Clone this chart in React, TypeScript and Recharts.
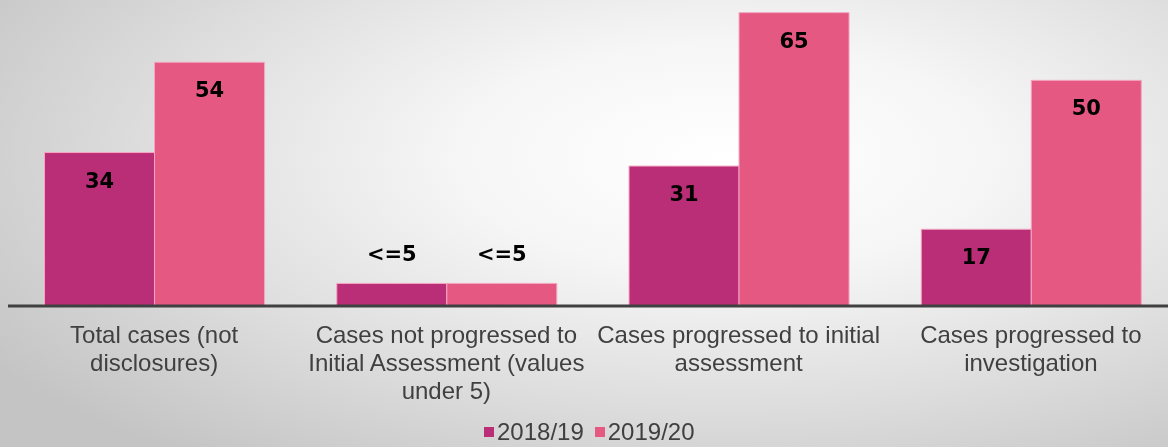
import React from "react";
import { BarChart, Bar, XAxis, YAxis, LabelList } from "recharts";

const categories = [
  "Total cases (not disclosures)",
  "Cases not progressed to Initial Assessment (values under 5)",
  "Cases progressed to initial assessment",
  "Cases progressed to investigation",
];
const tickLines = [
  ["Total cases (not", "disclosures)"],
  ["Cases not progressed to", "Initial Assessment (values", "under 5)"],
  ["Cases progressed to initial", "assessment"],
  ["Cases progressed to", "investigation"],
];
const series1Name = "2018/19";
const series2Name = "2019/20";
const values1819 = [34, 5, 31, 17];
const values1920 = [54, 5, 65, 50];
const labels1819 = ["34", "<=5", "31", "17"];
const labels1920 = ["54", "<=5", "65", "50"];

const COLOR1 = "#B92E76";
const COLOR2 = "#E55882";
const STROKE = "#F4A6C2";
const TEXT = "#404040";

const data = categories.map((c, i) => ({
  name: c,
  s1: values1819[i],
  s2: values1920[i],
}));

const renderTick = (props: any) => {
  const { x, y, payload } = props;
  const lines = tickLines[payload.index] || [payload.value];
  return (
    <g>
      {lines.map((l: string, i: number) => (
        <text
          key={i}
          x={x}
          y={y + 37 + i * 28}
          textAnchor="middle"
          fill={TEXT}
          fontFamily="'Liberation Sans', Arial, sans-serif"
          fontSize={24}
        >
          {l}
        </text>
      ))}
    </g>
  );
};

const makeLabel = (labels: string[]) => (props: any) => {
  const { x, y, width, index } = props;
  const txt = labels[index];
  const small = txt.startsWith("<");
  const cy = small ? y - 29 : y + 28;
  return (
    <text
      x={x + width / 2}
      y={cy}
      textAnchor="middle"
      dominantBaseline="central"
      fill="#000"
      fontFamily="'DejaVu Sans', sans-serif"
      fontWeight="bold"
      fontSize={21}
    >
      {txt}
    </text>
  );
};

export default function App() {
  return (
    <div
      style={{
        position: "fixed",
        top: 0,
        left: 0,
        width: 1168,
        height: 447,
        overflow: "hidden",
        background:
          "radial-gradient(ellipse 75% 85% at 62% 35%, #ffffff 0%, #f6f6f6 30%, #dedede 65%, #c4c4c4 100%)",
      }}
    >
      <BarChart
        width={1185}
        height={447}
        data={data}
        margin={{ top: 0, right: 8, left: 8, bottom: 41 }}
        barCategoryGap="12.5%"
        barGap={0}
      >
        <XAxis
          dataKey="name"
          height={100}
          interval={0}
          tickLine={false}
          tickSize={0}
          tickMargin={0}
          axisLine={{ stroke: TEXT, strokeWidth: 3 }}
          tick={renderTick}
        />
        <YAxis hide domain={[0, 67.8]} allowDataOverflow />
        <Bar
          dataKey="s1"
          name={series1Name}
          fill={COLOR1}
          stroke={STROKE}
          strokeWidth={1}
          isAnimationActive={false}
        >
          <LabelList dataKey="s1" content={makeLabel(labels1819)} />
        </Bar>
        <Bar
          dataKey="s2"
          name={series2Name}
          fill={COLOR2}
          stroke={STROKE}
          strokeWidth={1}
          isAnimationActive={false}
        >
          <LabelList dataKey="s2" content={makeLabel(labels1920)} />
        </Bar>
      </BarChart>
      <div
        style={{
          position: "absolute",
          top: 419,
          left: 484,
          display: "flex",
          alignItems: "center",
          fontFamily: "'Liberation Sans', Arial, sans-serif",
          fontSize: 24,
          color: TEXT,
          lineHeight: "26px",
        }}
      >
        <span style={{ display: "inline-block", width: 10, height: 10, background: COLOR1, marginRight: 3 }} />
        <span style={{ marginRight: 11 }}>{series1Name}</span>
        <span style={{ display: "inline-block", width: 10, height: 10, background: COLOR2, marginRight: 3 }} />
        <span>{series2Name}</span>
      </div>
    </div>
  );
}
